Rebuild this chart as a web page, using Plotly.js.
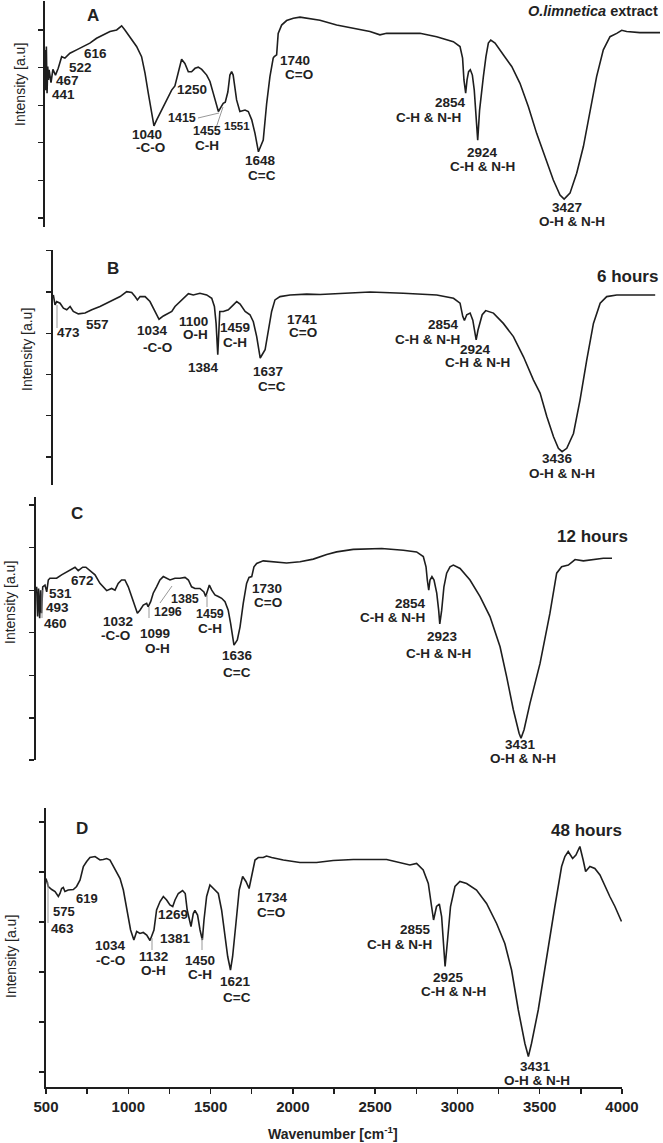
<!DOCTYPE html>
<html>
<head>
<meta charset="utf-8">
<script src="https://cdn.plot.ly/plotly-3.0.1.min.js"></script>
<style>
html,body{margin:0;padding:0;background:#fff;}
#chart{width:663px;height:1143px;}
</style>
</head>
<body>
<div id="chart"></div>
<script>
// ---------------- DATA ----------------
// Panel A : O.limnetica extract
const wnA = [406,410,414,418,422,426,430,441,452,467,483,503,522,551,590,616,629,667,706,745,784,823,852,871,900,939,968,988,1007,1027,1040,1056,1085,1114,1143,1162,1181,1201,1220,1240,1259,1279,1298,1318,1347,1366,1385,1415,1430,1443,1455,1470,1482,1492,1501,1521,1540,1551,1570,1589,1609,1628,1648,1676,1696,1715,1734,1740,1754,1763,1783,1812,1851,1890,1948,2006,2103,2200,2297,2355,2394,2491,2588,2685,2782,2821,2836,2844,2854,2862,2871,2881,2893,2904,2914,2924,2935,2947,2957,2972,2986,3000,3025,3073,3122,3170,3219,3267,3325,3364,3403,3427,3461,3500,3539,3577,3616,3655,3694,3733,3762,3791,3830,3868,3946,3985];
const intA = [44.7,34.0,45.6,33.2,40.3,36.7,39.4,36.0,39.5,38.0,39.8,42.9,42.5,43.8,44.7,45.3,45.6,46.5,47.8,48.7,49.6,50.0,51.1,50.0,48.2,45.6,42.9,38.5,33.2,27.8,24.5,26.1,28.7,31.4,34.0,35.1,38.5,42.2,41.1,38.9,38.9,39.8,40.1,39.5,38.0,36.3,33.2,28.3,29.5,30.5,30.8,33.5,38.0,38.9,38.0,31.4,28.3,28.5,28.7,28.3,26.1,22.5,17.6,20.7,30.5,37.6,42.5,42.9,43.4,49.1,51.3,52.5,53.1,53.4,53.1,52.6,51.3,50.5,49.6,48.7,49.1,49.1,49.1,48.2,46.9,45.6,42.5,36.7,33.2,36.7,38.9,39.4,38.0,34.0,27.8,20.7,28.7,34.0,37.6,42.9,46.5,47.3,46.5,43.4,40.3,35.8,29.6,22.5,15.4,10.1,6.1,5.0,6.6,11.9,19.0,27.8,37.6,44.7,48.2,49.1,49.9,49.6,49.4,49.3,49.3,49.3];

// Panel B : 6 hours
const wnB = [404,414,424,444,464,484,504,523,553,593,633,682,742,802,841,871,891,905,921,951,980,1010,1034,1060,1089,1110,1129,1149,1179,1209,1238,1278,1318,1348,1364,1374,1384,1390,1396,1417,1447,1477,1497,1517,1547,1576,1596,1616,1630,1637,1666,1685,1705,1725,1755,1815,1914,1994,2113,2292,2490,2689,2789,2828,2844,2854,2868,2888,2904,2924,2935,2950,2960,2981,3027,3086,3146,3206,3265,3305,3345,3385,3414,3436,3464,3504,3543,3583,3623,3663,3702,3762,3861,3991];
const intB = [39.3,36.9,37.7,37.3,36.1,35.7,36.5,35.3,34.7,34.9,35.7,36.5,37.7,38.9,40.1,39.9,38.9,38.1,38.9,38.9,37.7,35.3,33.4,34.2,34.9,35.3,36.5,37.3,38.5,39.6,39.3,39.7,39.3,38.5,36.5,32.4,24.8,31.6,35.3,35.3,35.7,36.9,37.7,37.1,35.3,34.5,32.8,29.2,25.2,24.0,26.0,30.8,35.3,38.1,38.9,39.3,39.5,39.4,39.6,40.0,39.7,39.3,38.5,37.3,34.1,33.1,34.5,34.9,33.2,28.4,30.8,33.2,34.5,35.5,34.9,32.4,29.2,24.3,18.7,15.5,9.8,4.9,2.1,1.3,2.1,5.7,13.8,23.5,32.4,37.3,38.9,39.3,39.3,39.3];

// Panel C : 12 hours
const wnC = [402,408,414,421,427,433,440,454,465,475,485,527,558,590,621,642,662,690,710,735,767,798,840,871,892,912,933,954,975,996,1017,1032,1048,1069,1090,1099,1115,1131,1152,1173,1194,1215,1236,1267,1298,1330,1351,1371,1392,1423,1448,1459,1469,1482,1497,1517,1538,1559,1580,1600,1615,1628,1636,1657,1674,1694,1715,1730,1747,1761,1778,1819,1882,1965,2049,2132,2216,2278,2382,2560,2695,2778,2820,2837,2845,2854,2862,2874,2887,2904,2916,2923,2935,2949,2966,2987,3008,3050,3112,3175,3237,3300,3341,3383,3419,3431,3450,3487,3550,3612,3654,3685,3727,3769,3821,3884,3946,4000];
const intC = [30.8,23.8,30.4,23.4,30.0,24.6,30.8,31.2,29.6,32.4,32.8,32.8,33.6,34.3,34.9,35.4,34.6,35.4,35.4,34.7,33.6,31.6,29.9,30.4,30.0,31.6,32.4,32.4,30.8,28.5,26.1,24.6,25.3,26.5,26.9,26.1,27.3,29.3,30.8,32.4,33.2,32.8,32.4,32.8,32.8,33.0,32.4,30.8,30.4,30.4,29.6,28.5,29.6,31.2,30.0,28.9,28.5,28.1,27.3,25.3,22.2,19.1,17.1,18.3,21.4,26.9,31.6,33.0,33.2,35.5,36.3,36.9,36.7,36.4,36.7,37.3,38.4,39.0,39.6,39.8,39.4,39.0,37.9,35.5,32.4,30.0,32.4,33.2,32.4,29.3,25.3,22.1,25.3,30.8,34.0,35.5,35.9,35.1,32.4,28.5,23.8,16.7,9.7,1.9,-3.6,-4.8,-2.8,3.4,12.8,24.6,34.0,35.5,35.9,37.2,36.9,37.2,37.5,37.5];

// Panel D : 48 hours
const wnD = [500,514,535,555,575,585,595,605,615,635,666,686,707,727,747,767,798,828,848,869,889,919,950,970,990,1014,1034,1051,1071,1091,1112,1125,1132,1156,1172,1193,1213,1233,1253,1270,1284,1304,1330,1346,1358,1381,1395,1405,1421,1436,1450,1460,1476,1496,1516,1547,1567,1587,1604,1621,1634,1654,1674,1695,1715,1734,1749,1770,1790,1820,1840,1871,1942,2043,2144,2245,2367,2570,2711,2752,2792,2823,2843,2855,2873,2890,2904,2918,2925,2938,2958,2985,3015,3056,3116,3177,3238,3288,3329,3370,3410,3431,3450,3491,3542,3592,3633,3653,3673,3700,3720,3744,3764,3779,3805,3835,3866,3896,3926,3957,3997];
const intD = [38.7,37.1,36.5,36.1,35.1,35.7,36.7,36.9,36.1,36.4,36.5,37.1,38.4,41.1,42.1,42.9,43.1,42.4,42.5,42.7,42.4,40.7,38.7,36.4,32.4,28.4,26.4,28.1,27.7,27.9,27.4,26.7,26.3,28.4,32.4,34.1,35.1,34.4,33.4,33.1,34.4,35.7,36.3,35.7,32.4,29.1,31.7,32.3,31.4,28.4,26.4,30.4,35.1,37.4,36.7,35.7,32.4,27.1,23.1,20.4,23.1,29.7,36.4,39.1,38.1,36.7,39.1,42.4,42.9,42.9,43.2,42.9,42.4,41.9,41.9,42.3,42.5,42.5,41.4,41.7,40.4,37.7,33.1,30.4,33.1,33.6,31.1,24.4,21.1,25.7,33.1,37.1,38.1,37.7,36.4,33.7,29.7,25.7,20.4,12.4,5.7,3.1,5.7,12.4,23.1,33.1,41.1,43.1,44.1,42.7,43.4,45.1,42.4,40.1,41.1,40.7,39.4,37.1,35.1,33.1,30.1];

const yTicks = [0,10,20,30,40,50];
const xTickVals = [500,1000,1500,2000,2500,3000,3500,4000];
const xTickText = ['500','1000','1500','2000','2500','3000','3500','4000'];

const panelNames = ['A','B','C','D'];
const panelTimes = ['<i>O.limnetica</i> extract','6 hours','12 hours','48 hours'];
const yTitle = 'Intensity [a.u]';
const xTitle = 'Wavenumber [cm<sup>-1</sup>]';

// peak labels: [text, px, py, size]
const peakLabels = [
 // A
 ['616',95,53],['522',80,67],['467',67,81],['441',63,95],['1250',192,89],
 ['1040',147,134],['-C-O',150,148],['1415',182,118,12.5],['1455',207,131,12.5],['C-H',207,145],
 ['1551',237,126,11.5],['1648',260,161],['C=C',262,175],['1740',295,61],['C=O',299,75],
 ['2854',450,103],['C-H &amp; N-H',428,118],['2924',482,153],['C-H &amp; N-H',482,167],
 ['3427',567,207],['O-H &amp; N-H',572,221],
 // B
 ['473',68,332],['557',97,325],['1034',152,330],['-C-O',157,347],['1100',193,321],['O-H',195,335],
 ['1459',235,327],['C-H',235,342],['1384',203,367],['1637',268,372],['C=C',272,386],
 ['1741',302,319],['C=O',303,333],['2854',443,325],['C-H &amp; N-H',427,339],
 ['2924',475,349],['C-H &amp; N-H',477,363],['3436',557,459],['O-H &amp; N-H',562,473],
 // C
 ['672',82,580],['531',60,593],['493',57,607],['460',55,623],['1032',118,621],['-C-O',115,635],
 ['1099',155,633],['O-H',157,648],['1296',168,612,12.5],['1385',185,599,12.5],['1459',210,614,12.5],['C-H',210,628],
 ['1636',237,655],['C=C',237,672],['1730',267,588],['C=O',268,602],
 ['2854',410,603],['C-H &amp; N-H',392,617],['2923',442,636],['C-H &amp; N-H',438,653],
 ['3431',520,744],['O-H &amp; N-H',523,758],
 // D
 ['575',64,911,13],['619',87,898,13],['463',62,928],['1034',110,945],['-C-O',110,960],
 ['1132',153,956],['O-H',153,970],['1269',173,915],['1381',175,938],['1450',200,960],['C-H',200,974],
 ['1621',235,981],['C=C',237,997],['1734',272,897],['C=O',271,912],
 ['2855',415,929],['C-H &amp; N-H',399,944],['2925',448,977],['C-H &amp; N-H',453,991],
 ['3431',535,1066],['O-H &amp; N-H',537,1080]
];

// ---------------- LAYOUT HELPERS ----------------
const W = 663, H = 1143;
const fx = p => p / W;
const fy = p => 1 - p / H;
const FONT = 'Liberation Sans, Arial, sans-serif';
const INK = '#1e1e1e';

const geo = [
 {xl:45, xr:662.6, yt:1,   yb:227,  xrng:[406,4000], yrng:[-2.4,57.7], ticks:yTicks},
 {xl:53, xr:656.7, yt:250, yb:485,  xrng:[402,4000], yrng:[-6.8,50.2], ticks:yTicks},
 {xl:36, xr:612,   yt:497, yb:760,  xrng:[398,4000], yrng:[-9.9,51.9], ticks:[-9.9].concat(yTicks)},
 {xl:46, xr:622,   yt:808, yb:1087, xrng:[500,4000], yrng:[-3.0,52.8], ticks:yTicks}
];
const series = [[wnA,intA],[wnB,intB],[wnC,intC],[wnD,intD]];

const traces = series.map((s,i)=>({
  x:s[0], y:s[1], type:'scatter', mode:'lines',
  xaxis: i===0?'x':'x'+(i+1), yaxis: i===0?'y':'y'+(i+1),
  line:{color:INK, width:1.6}, hoverinfo:'skip', showlegend:false
}));

const layout = {
  width:W, height:H, margin:{l:0,r:0,t:0,b:0},
  paper_bgcolor:'#fff', plot_bgcolor:'rgba(0,0,0,0)',
  showlegend:false, font:{family:FONT, color:INK},
  annotations:[], shapes:[]
};

geo.forEach((g,i)=>{
  const xk = i===0?'xaxis':'xaxis'+(i+1);
  const yk = i===0?'yaxis':'yaxis'+(i+1);
  const xa = i===0?'x':'x'+(i+1);
  const ya = i===0?'y':'y'+(i+1);
  const isLast = i===3;
  const xax = {
    domain:[fx(g.xl), fx(g.xr)], range:g.xrng, anchor:ya, fixedrange:true,
    showgrid:false, zeroline:false, automargin:false,
    showline:isLast, linecolor:INK, linewidth:1.5,
    ticks:isLast?'outside':'', ticklen:5, tickwidth:1.3, tickcolor:INK,
    showticklabels:isLast, tickmode:'array', tickvals:xTickVals, ticktext:xTickText,
    tickfont:{family:FONT, size:15, color:'#222', weight:'bold'}
  };
  if (isLast) xax.minor = {tickmode:'linear', tick0:250, dtick:250, ticks:'outside', ticklen:5, tickwidth:1.3, tickcolor:INK, showgrid:false};
  layout[xk] = xax;
  layout[yk] = {
    domain:[fy(g.yb), fy(g.yt)], range:g.yrng, anchor:xa, fixedrange:true,
    showgrid:false, zeroline:false, automargin:false,
    showline:true, linecolor:INK, linewidth:1.6,
    ticks:'outside', ticklen:5, tickwidth:1.3, tickcolor:INK,
    tickmode:'array', tickvals:g.ticks, showticklabels:false
  };
});

function ann(text, px, py, size, extra){
  return Object.assign({
    text:text, xref:'paper', yref:'paper', x:fx(px), y:fy(py),
    xanchor:'center', yanchor:'middle', showarrow:false,
    font:{family:FONT, size:size||13.5, color:'#222', weight:'bold'}
  }, extra||{});
}

const letterPos = [[93,15],[113,268],[77,513],[82,828]];
panelNames.forEach((t,i)=>layout.annotations.push(ann(t, letterPos[i][0], letterPos[i][1], 17)));
layout.annotations.push(ann(panelTimes[0], 660, 11, 14.5, {xanchor:'right'}));
layout.annotations.push(ann(panelTimes[1], 627, 277, 17));
layout.annotations.push(ann(panelTimes[2], 592, 536, 17));
layout.annotations.push(ann(panelTimes[3], 586, 830, 17));
const yTitlePos = [[20,85],[27,350],[10,603],[11,957]];
yTitlePos.forEach(p=>layout.annotations.push(ann(yTitle, p[0], p[1], 14,
  {textangle:-90, font:{family:FONT, size:14, color:'#222', weight:'normal'}})));
layout.annotations.push(ann(xTitle, 333, 1133, 14));
peakLabels.forEach(l=>layout.annotations.push(ann(l[0], l[1], l[2], l[3])));

const leaders = [
  [198,118,219,113],[216,128,223,107],
  [57,305,57,328],
  [42,590,42,618],[160,603,172,586],[149,607,149,618],[207,595,207,607],
  [48,882,48,923],[152,938,152,950],[202,938,202,950]
];
leaders.forEach(s=>layout.shapes.push({type:'line', xref:'paper', yref:'paper',
  x0:fx(s[0]), y0:fy(s[1]), x1:fx(s[2]), y1:fy(s[3]), line:{color:'#999', width:1}}));

Plotly.newPlot('chart', traces, layout, {staticPlot:true, displayModeBar:false});
</script>
</body>
</html>
